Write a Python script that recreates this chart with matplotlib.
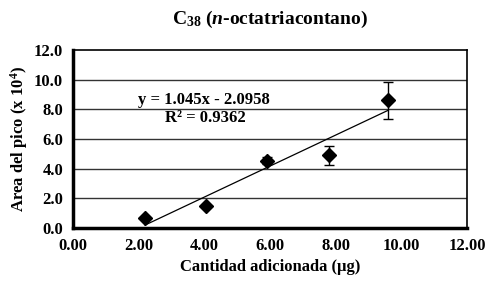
import numpy as np
import matplotlib.pyplot as plt

plt.rcParams['font.family'] = ['Liberation Serif', 'DejaVu Serif']
plt.rcParams['font.weight'] = 'bold'
plt.rcParams['mathtext.fontset'] = 'custom'
plt.rcParams['mathtext.rm'] = 'Liberation Serif:bold'
plt.rcParams['mathtext.it'] = 'Liberation Serif:italic:bold'
plt.rcParams['mathtext.bf'] = 'Liberation Serif:bold'

cantidad = [2.2, 4.05, 5.9, 7.8, 9.6]
area = [0.7, 1.5, 4.55, 4.9, 8.6]
error = [0.0, 0.0, 0.25, 0.65, 1.25]
pendiente = 1.045
intercepto = -2.0958
r2 = 0.9362

fig = plt.figure(figsize=(4.89, 2.84), dpi=100)
ax = fig.add_axes([0.149, 0.197, 0.806, 0.627])

for yv in [2, 4, 6, 8, 10]:
    ax.axhline(yv, color='#333333', lw=1.0, zorder=1)

ax.errorbar(cantidad, area, yerr=error, fmt='D', color='black', ms=7,
            ecolor='black', elinewidth=1, capsize=3.5, capthick=1, zorder=3)

xt = np.array([cantidad[0], cantidad[-1]])
ax.plot(xt, pendiente * xt + intercepto, color='black', lw=0.9, zorder=2)

ax.text(4.0, 8.6, 'y = %.3fx - %.4f' % (pendiente, -intercepto), ha='center',
        va='center', fontsize=12, fontweight='bold')
ax.text(4.02, 7.45, 'R² = %.4f' % r2, ha='center', va='center',
        fontsize=12, fontweight='bold')

ax.set_xlim(0, 12)
ax.set_ylim(0, 12)
ax.set_xticks(np.arange(0, 13, 2))
ax.set_xticklabels(['%.2f' % v for v in np.arange(0, 13, 2)])
ax.set_yticks(np.arange(0, 13, 2))
ax.set_yticklabels(['%.1f' % v for v in np.arange(0, 13, 2)])
ax.tick_params(length=0, labelsize=12, pad=7)

for s in ['left', 'bottom']:
    ax.spines[s].set_linewidth(2.5)
for s in ['top', 'right']:
    ax.spines[s].set_linewidth(1.2)

ax.set_xlabel('Cantidad adicionada (µg)', fontsize=12, fontweight='bold', labelpad=4)
ax.set_ylabel('Area del pico (x 10$^{4}$)', fontsize=12, fontweight='bold', labelpad=3)
ax.set_title('C$_{38}$ ($\\mathit{n}$-octatriacontano)', fontsize=14,
             fontweight='bold', pad=19)

fig.savefig('out.png', dpi=100)
